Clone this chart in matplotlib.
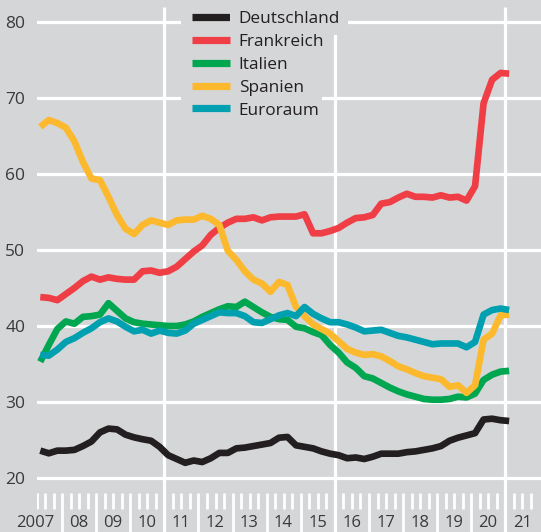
import numpy as np
import matplotlib
matplotlib.use("Agg")
import matplotlib.pyplot as plt
from matplotlib.patches import Rectangle

plt.rcParams['font.family'] = ['Open Sans', 'DejaVu Sans']

# quarterly values, 2007 Q1 .. 2020 Q4
deutschland = [23.6, 23.25, 23.6, 23.6, 23.7, 24.2, 24.8, 26.0, 26.5, 26.4, 25.7, 25.35, 25.1, 24.9,
               24.1, 23.0, 22.5, 22.0, 22.3, 22.1, 22.6, 23.3, 23.3, 23.9, 24.0, 24.2, 24.4, 24.6,
               25.3, 25.4, 24.3, 24.1, 23.9, 23.5, 23.2, 23.0, 22.6, 22.7, 22.5, 22.8, 23.2, 23.2,
               23.2, 23.4, 23.5, 23.7, 23.9, 24.2, 24.9, 25.3, 25.6, 25.9, 27.7, 27.8, 27.6, 27.5]
frankreich = [43.8, 43.7, 43.4, 44.2, 45.0, 45.9, 46.5, 46.1, 46.4, 46.2, 46.1, 46.1, 47.2, 47.3,
              47.0, 47.2, 47.8, 48.8, 49.8, 50.6, 52.0, 52.9, 53.6, 54.1, 54.1, 54.3, 53.9, 54.3,
              54.4, 54.4, 54.4, 54.7, 52.2, 52.2, 52.5, 52.9, 53.6, 54.2, 54.3, 54.6, 56.1, 56.3,
              56.9, 57.4, 57.0, 57.0, 56.9, 57.2, 56.9, 57.0, 56.5, 58.4, 69.3, 72.4, 73.3, 73.2]
italien = [35.3, 37.5, 39.6, 40.6, 40.3, 41.2, 41.3, 41.5, 43.0, 42.0, 41.0, 40.5, 40.3, 40.2,
           40.1, 40.0, 40.0, 40.2, 40.6, 41.2, 41.7, 42.2, 42.6, 42.5, 43.2, 42.5, 41.8, 41.2,
           40.9, 40.8, 39.9, 39.7, 39.2, 38.8, 37.5, 36.5, 35.2, 34.5, 33.4, 33.1, 32.5, 31.9,
           31.4, 31.0, 30.7, 30.4, 30.3, 30.3, 30.4, 30.7, 30.6, 31.1, 32.9, 33.6, 34.0, 34.1]
spanien = [66.2, 67.1, 66.7, 66.1, 64.3, 61.6, 59.4, 59.2, 57.0, 54.6, 52.8, 52.1, 53.3, 53.9,
           53.6, 53.3, 53.9, 54.0, 54.0, 54.5, 54.1, 53.3, 49.9, 48.7, 47.2, 46.1, 45.6, 44.5,
           45.8, 45.4, 42.5, 41.3, 40.2, 39.6, 39.0, 38.0, 37.0, 36.5, 36.2, 36.3, 36.0, 35.4,
           34.7, 34.3, 33.8, 33.4, 33.2, 33.0, 32.0, 32.2, 31.2, 32.2, 38.2, 39.0, 41.4, 41.5]
euroraum = [36.2, 36.1, 36.9, 37.9, 38.4, 39.1, 39.7, 40.5, 41.0, 40.6, 39.9, 39.3, 39.5, 39.0,
            39.4, 39.1, 39.0, 39.4, 40.3, 40.8, 41.3, 41.8, 41.7, 41.7, 41.3, 40.5, 40.4, 40.9,
            41.4, 41.7, 41.3, 42.5, 41.6, 41.0, 40.5, 40.5, 40.2, 39.8, 39.3, 39.4, 39.5, 39.1,
            38.7, 38.5, 38.2, 37.9, 37.6, 37.7, 37.7, 37.7, 37.2, 37.9, 41.5, 42.1, 42.3, 42.1]

series = [("Deutschland", deutschland, "#231f20"),
          ("Frankreich", frankreich, "#ef3e45"),
          ("Italien", italien, "#00a650"),
          ("Spanien", spanien, "#fdb92e"),
          ("Euroraum", euroraum, "#00a0b0")]

years = list(range(2007, 2022))
year_labels = ["2007"] + ["%02d" % (y % 100) for y in years[1:]]
full_lines = [2011, 2016, 2021]

bg = "#d5d6d8"
W, H = 541, 532

fig = plt.figure(figsize=(W / 100, H / 100), dpi=100, facecolor=bg)
ax = fig.add_axes([37 / W, 0, 1 - 37 / W, 1], facecolor=bg)

# pixel <-> data helpers (x: 34.1 px per year, y: 7.6 px per unit)
def tx(p):
    return 2007 + (p - 28) / 34.1

def vy(p):
    return 80 - (p - 22) / 7.6

ax.set_xlim(tx(37), tx(W))
ax.set_ylim(vy(H), vy(0))

quarters = 2007.36 + np.arange(len(deutschland)) * 0.25
for name, vals, col in series:
    ax.plot(quarters, vals, color=col, lw=4.8, label=name, zorder=3,
            solid_joinstyle='round', solid_capstyle='butt')

# horizontal grid
ax.set_yticks(range(20, 81, 10))
ax.yaxis.grid(True, color='white', lw=2.3)
ax.set_axisbelow(True)
ax.tick_params(axis='y', length=0, pad=8.5, labelsize=12.5, labelcolor='#3a3a3a')
ax.set_xticks([])
for s in ax.spines.values():
    s.set_visible(False)

# year separators and quarter ticks at the bottom
ax.vlines(full_lines, vy(H), vy(7), color='white', lw=2.3, zorder=1)
ax.vlines([y for y in years[1:] if y not in full_lines], vy(H), vy(493),
          color='white', lw=2.0, zorder=1)
q_ticks = [y + q for y in years for q in (0.25, 0.5, 0.75)]
ax.vlines(q_ticks, vy(509), vy(493), color='white', lw=2.0, zorder=1)
for y, lab in zip(years, year_labels):
    ax.text(y + 0.77, vy(531), lab, ha='right', va='bottom',
            fontsize=12, color='#3a3a3a')

# legend with grey backing
ax.add_patch(Rectangle((181 / W, 1 - 124 / H), 141 / W, 124 / H,
                       transform=fig.transFigure, facecolor=bg,
                       edgecolor='none', zorder=2))
leg = ax.legend(loc='upper left', bbox_to_anchor=((181 - 37) / (W - 37), 1.0),
                frameon=False, fontsize=12.4, handlelength=2.25, handletextpad=0.48,
                labelspacing=0.4, borderpad=0.62, borderaxespad=0)
leg.set_zorder(5)
for line in leg.get_lines():
    line.set_linewidth(5.2)
    line.set_solid_capstyle('butt')
for t in leg.get_texts():
    t.set_color('#231f20')
leg.get_texts()[0].set_bbox(dict(facecolor=bg, edgecolor='none', pad=6))

fig.savefig("out.png", dpi=100, facecolor=bg)
